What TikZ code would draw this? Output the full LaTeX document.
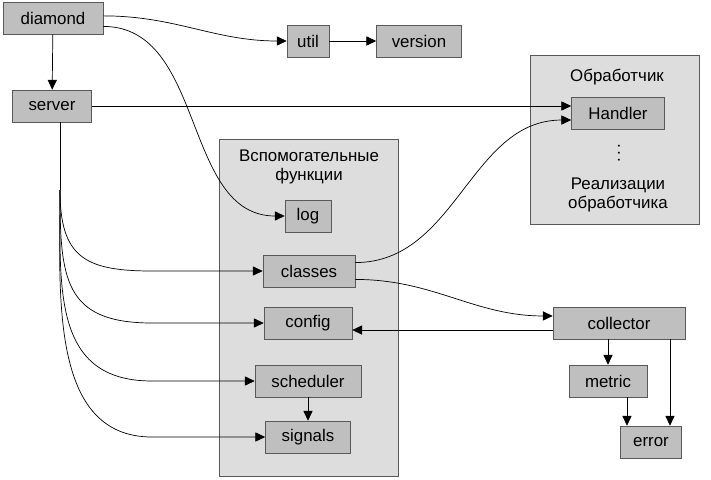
\documentclass[tikz,border=0pt]{standalone}
\usepackage{fontspec}
\setmainfont{Liberation Sans}
\usetikzlibrary{arrows.meta}
\definecolor{boxgray}{gray}{0.75}
\definecolor{grpgray}{gray}{0.865}
\definecolor{edgegray}{gray}{0.35}
\tikzset{
  modul/.style  = {rectangle, draw=edgegray, fill=boxgray, minimum height=0.8cm, inner sep=0, font=\fontsize{12}{14}\selectfont},
  gruppe/.style = {rectangle, draw=edgegray, fill=grpgray, inner sep=0},
  titel/.style  = {align=center, font=\fontsize{12}{13.5}\selectfont},
  pfeil/.style  = {-{Triangle[length=7pt,width=6.5pt]}, line width=0.5pt}
}
\begin{document}
\begin{tikzpicture}[x=0.025cm, y=-0.025cm]
  \useasboundingbox (0,0) rectangle (711,480);

  % gruppen
  \node[gruppe, minimum width=4.475cm, minimum height=8.425cm] (hilfe) at (308.5,307.5) {};
  \node[titel] (hilfetitel) at (309,167) {Вспомогательные\\функции};
  \node[gruppe, minimum width=4.225cm, minimum height=4.225cm] (bearb) at (614.5,139.5) {};
  \node[titel] (bearbtitel) at (617,77) {Обработчик};
  \node[titel] (impl) at (618,195) {Реализации\\обработчика};
  \node[titel] (punkte) at (619,153) {\rotatebox{90}{.\hspace{1.7pt}.\hspace{1.7pt}.}};

  % module
  \node[modul, minimum width=2.5cm]   (diamond)   at (53,18)   {diamond};
  \node[modul, minimum width=1.05cm]  (util)      at (308,41)  {util};
  \node[modul, minimum width=2.125cm] (version)   at (419,41)  {version};
  \node[modul, minimum width=1.975cm] (server)    at (52,106)  {server};
  \node[modul, minimum width=2.325cm] (handler)   at (618,113) {Handler};
  \node[modul, minimum width=1.15cm]  (log)       at (308,216) {log};
  \node[modul, minimum width=2.3cm]   (classes)   at (309,271) {classes};
  \node[modul, minimum width=2.2cm]   (config)    at (308,323) {config};
  \node[modul, minimum width=2.65cm]  (scheduler) at (308,381) {scheduler};
  \node[modul, minimum width=2.125cm] (signals)   at (308,437) {signals};
  \node[modul, minimum width=3.3cm]   (collector) at (619,323) {collector};
  \node[modul, minimum width=1.95cm]  (metric)    at (608,381) {metric};
  \node[modul, minimum width=1.525cm] (error)     at (651,442) {error};

  % oben
  \draw[pfeil] (diamond) -- (server);
  \draw[pfeil] ([yshift=1.5pt]diamond.east) to[out=0,in=180] (util.west);
  \draw[pfeil] (util) -- (version);
  \draw[pfeil] ([yshift=-6pt]diamond.east) to[out=0,in=180] (log.west);
  \draw[pfeil] (server) -- (server -| handler.west);

  % server nach unten
  \coordinate (abzweig) at (60,190);
  \coordinate (knick) at (152,0);
  \draw[line width=0.5pt] (server.south -| abzweig) -- (abzweig);
  \foreach \ziel/\lose in {classes/1.4, config/1.4, scheduler/1.2, signals/1.0}
    \draw[pfeil] (abzweig) to[out=-90,in=180,looseness=\lose] (knick |- \ziel.west) -- (\ziel.west);
  \draw[pfeil] (scheduler) -- (signals);

  % classes, collector
  \draw[pfeil] ([yshift=6pt]classes.east) to[out=0,in=180] ([yshift=-5pt]handler.west);
  \draw[pfeil] ([yshift=-6pt]classes.east) to[out=0,in=180] ([yshift=5pt]collector.west);
  \draw[pfeil] ([yshift=-5pt]collector.west) -- ([yshift=-5pt]config.east);
  \draw[pfeil] (metric |- collector.south) -- (metric);
  \draw[pfeil] ([xshift=13.5pt]error.north |- collector.south) -- ([xshift=13.5pt]error.north);
  \draw[pfeil] ([xshift=13.5pt]metric.south) -- ([xshift=13.5pt]metric.south |- error.north);
\end{tikzpicture}
\end{document}
